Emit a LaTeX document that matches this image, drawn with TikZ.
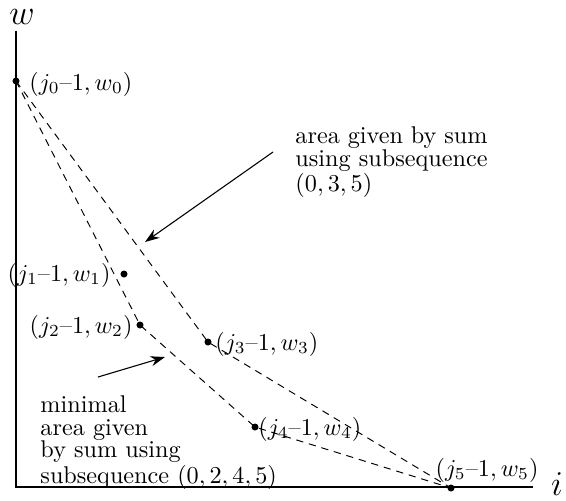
\documentclass[tikz,border=0pt]{standalone}
\usepackage{xcolor}
\usepackage{tikz}
\usetikzlibrary{arrows.meta}
\newlength\notewd
\settowidth{\notewd}{using subsequence}
\tikzset{
  dot/.style={circle, fill=black, inner sep=0pt, minimum size=2.9pt},
  ptlabel/.style={inner sep=0pt},
  arealine/.style={line width=0.4pt, dash pattern=on 3pt off 2.4pt},
  pointer/.style={-{Stealth[length=6pt,width=4.2pt]}, line width=0.45pt},
  note/.style={inner sep=0pt, align=left, font={\fontsize{10pt}{9.4pt}\selectfont}},
}

\begin{document}
\begin{tikzpicture}[x=0.413pt,y=-0.413pt]
\useasboundingbox (0,0) rectangle (566,500);
% Axes
\coordinate (O) at (16,487);
\coordinate (wtop) at (16,31);
\coordinate (iend) at (533,487);
\draw[line width=0.8pt] (wtop) -- (O) -- (iend);
\node[inner sep=0pt] (wlab) at (22,17) {\Large $w$};
\node[inner sep=0pt] (ilab) at (557,484) {\Large $i$};
% Points
\node[dot] (p0) at (16,81) {};
\node[dot] (p1) at (124,274) {};
\node[dot] (p2) at (140,325) {};
\node[dot] (p3) at (208,342) {};
\node[dot] (p4) at (255,427) {};
\node[dot] (p5) at (451,488) {};
\node[ptlabel, anchor=west] (l0) at (29,84) {$(j_0\mbox{--}1,w_0)$};
\node[ptlabel, anchor=east] (l1) at (111,275) {$(j_1\mbox{--}1,w_1)$};
\node[ptlabel, anchor=east] (l2) at (133,327) {$(j_2\mbox{--}1,w_2)$};
\node[ptlabel, anchor=west] (l3) at (215,344) {$(j_3\mbox{--}1,w_3)$};
\node[ptlabel, anchor=west] (l4) at (258,429) {$(j_4\mbox{--}1,w_4)$};
\node[ptlabel] (l5) at (487,470) {$(j_5\mbox{--}1,w_5)$};
% Areas
\draw[arealine] (p0.center) -- (p2.center) -- (p4.center) -- (p5.center);
\draw[arealine] (p0.center) -- (p3.center) -- (p5.center);
% Notes
\node[note, anchor=north west] (t1) at (295,126) {\makebox[\notewd][s]{area given by sum}\\using subsequence\\$(0,3,5)$};
\node[note, anchor=north west] (t2) at (40,395) {minimal\\area given\\by sum using\\subsequence $(0,2,4,5)$};
\coordinate (a1s) at (273,152);
\coordinate (a1e) at (145,242);
\coordinate (a2s) at (98,377);
\coordinate (a2e) at (165,357);
\draw[pointer] (a1s) -- (a1e);
\draw[pointer] (a2s) -- (a2e);
\end{tikzpicture}
\end{document}
